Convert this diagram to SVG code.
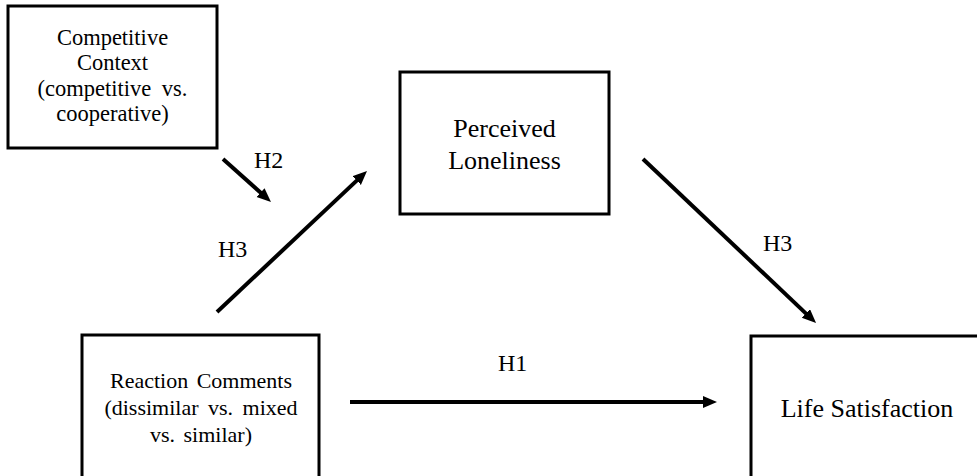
<svg xmlns="http://www.w3.org/2000/svg" width="977" height="476" viewBox="0 0 977 476">
<defs>
<marker id="ah" markerUnits="userSpaceOnUse" markerWidth="16" markerHeight="14" refX="1" refY="6" orient="auto">
<path d="M0,0 L14,6 L0,12 z" fill="#000"/>
</marker>
<style>
.box{fill:#fff;stroke:#000;stroke-width:3}
text{font-family:'Liberation Serif','Times New Roman',serif;fill:#000}
.t{text-anchor:middle}
.lbl{font-size:24px}
.conn{stroke:#000;stroke-width:4;fill:none;marker-end:url(#ah)}
</style>
</defs>
<rect width="977" height="476" fill="#fff"/>
<g id="competitive-context">
<rect class="box" x="8" y="6" width="209" height="142"/>
<text class="t" font-size="22.5" x="112.5" y="45">Competitive</text>
<text class="t" font-size="22.5" x="112.5" y="70">Context</text>
<text class="t" font-size="22.5" x="112.5" y="96" word-spacing="5">(competitive vs.</text>
<text class="t" font-size="22.5" x="112.5" y="121">cooperative)</text>
</g>
<g id="perceived-loneliness">
<rect class="box" x="400" y="72" width="209" height="142"/>
<text class="t" font-size="26" x="504.5" y="137">Perceived</text>
<text class="t" font-size="26" x="504.5" y="169">Loneliness</text>
</g>
<g id="reaction-comments">
<rect class="box" x="82" y="335" width="237" height="160"/>
<text class="t" font-size="22" x="201" y="388" word-spacing="3">Reaction Comments</text>
<text class="t" font-size="22" x="201" y="415" word-spacing="4">(dissimilar vs. mixed</text>
<text class="t" font-size="22" x="201" y="442" word-spacing="3">vs. similar)</text>
</g>
<g id="life-satisfaction">
<rect class="box" x="751" y="336" width="250" height="160"/>
<text class="t" font-size="26" x="867" y="417">Life Satisfaction</text>
</g>
<g id="connectors">
<line class="conn" x1="223" y1="159" x2="261.3" y2="193.3"/>
<line class="conn" x1="217" y1="312" x2="357.5" y2="179.9"/>
<line class="conn" x1="643" y1="159" x2="806.6" y2="314.1"/>
<line class="conn" x1="350" y1="402" x2="704" y2="402"/>
<text class="lbl" x="254" y="168">H2</text>
<text class="lbl" x="218" y="257">H3</text>
<text class="lbl" x="763" y="251">H3</text>
<text class="lbl" x="498" y="371">H1</text>
</g>
</svg>
